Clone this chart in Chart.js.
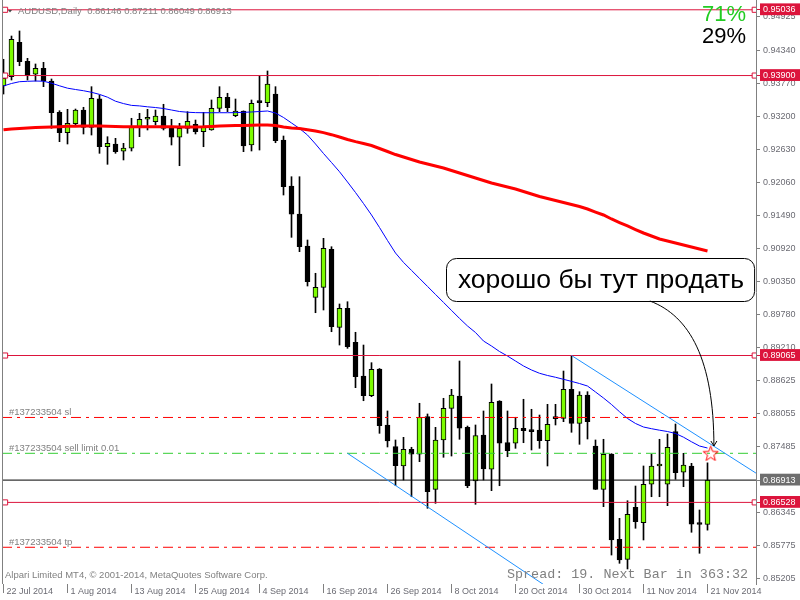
<!DOCTYPE html>
<html>
<head>
<meta charset="utf-8">
<script src="https://cdn.jsdelivr.net/npm/chart.js@4.4.1/dist/chart.umd.min.js"></script>
<style>
  html, body { margin: 0; background: #fff; }
  canvas { display: block; }
</style>
</head>
<body>
<canvas id="chart" width="800" height="600"></canvas>
<script>
// AUDUSD daily bars, 22 Jul 2014 .. 21 Nov 2014 (bar index 0..88)
const opens = [
  0.93720, 0.93880, 0.94474, 0.94146, 0.93922, 0.94025, 0.93806, 0.93265, 0.92913, 0.93069,
  0.93305, 0.93006, 0.93500, 0.92671, 0.92718, 0.92592, 0.92644, 0.93017, 0.93145, 0.93103,
  0.93201, 0.93017, 0.92834, 0.92989, 0.93058, 0.92930, 0.92960, 0.93334, 0.93524, 0.93207,
  0.93288, 0.92701, 0.93440, 0.93432, 0.93581, 0.92787, 0.91992, 0.91509, 0.90956, 0.90070,
  0.90243, 0.90899, 0.89552, 0.89880, 0.89293, 0.88711, 0.88371, 0.88832, 0.87865, 0.87490,
  0.87157, 0.87445, 0.87359, 0.88008, 0.86754, 0.87606, 0.88153, 0.88366, 0.87825, 0.86898,
  0.87692, 0.87100, 0.88279, 0.87559, 0.87549, 0.87808, 0.87778, 0.87778, 0.87594, 0.87998,
  0.87980, 0.88481, 0.87894, 0.88383, 0.87502, 0.86754, 0.87364, 0.85891, 0.85545, 0.86443,
  0.86177, 0.86841, 0.87157, 0.86841, 0.87749, 0.87048, 0.87157, 0.86160, 0.86146
];
const highs = [
  0.94181, 0.94583, 0.94670, 0.94198, 0.94100, 0.94129, 0.93841, 0.93293, 0.93317, 0.93322,
  0.93352, 0.93708, 0.93564, 0.92844, 0.92816, 0.92730, 0.93162, 0.93248, 0.93317, 0.93305,
  0.93404, 0.93144, 0.93075, 0.93276, 0.93132, 0.93265, 0.93478, 0.93708, 0.93594, 0.93495,
  0.93290, 0.93478, 0.93892, 0.93979, 0.93708, 0.92856, 0.92153, 0.92153, 0.91060, 0.90485,
  0.91089, 0.90944, 0.89955, 0.89994, 0.89466, 0.89246, 0.88941, 0.88840, 0.88107, 0.87606,
  0.87652, 0.87480, 0.88240, 0.88055, 0.87825, 0.88326, 0.88481, 0.88970, 0.87847, 0.87865,
  0.88107, 0.88573, 0.88285, 0.88107, 0.87998, 0.88309, 0.88136, 0.88037, 0.88222, 0.88222,
  0.88797, 0.89065, 0.88440, 0.88440, 0.87606, 0.87618, 0.87370, 0.86253, 0.86557, 0.86811,
  0.87157, 0.87359, 0.87618, 0.87709, 0.87882, 0.87376, 0.87203, 0.86397, 0.87211
];
const lows = [
  0.93581, 0.93823, 0.94070, 0.93823, 0.93806, 0.93708, 0.92989, 0.92758, 0.92718, 0.93029,
  0.92891, 0.92873, 0.92557, 0.92367, 0.92557, 0.92442, 0.92597, 0.92844, 0.92960, 0.93046,
  0.92960, 0.92701, 0.92343, 0.92903, 0.92891, 0.92671, 0.92955, 0.93276, 0.93276, 0.93189,
  0.92585, 0.92597, 0.92614, 0.93362, 0.92740, 0.91837, 0.91106, 0.90858, 0.90265, 0.89804,
  0.89851, 0.89476, 0.89246, 0.89189, 0.88509, 0.88284, 0.88354, 0.87721, 0.87485, 0.86816,
  0.86915, 0.86626, 0.87231, 0.86426, 0.86512, 0.87307, 0.87329, 0.87618, 0.86782, 0.86495,
  0.86915, 0.86730, 0.86816, 0.87317, 0.87462, 0.87559, 0.87433, 0.87462, 0.87157, 0.87865,
  0.87922, 0.87739, 0.87531, 0.87623, 0.86750, 0.86454, 0.85619, 0.85476, 0.85378, 0.86081,
  0.85879, 0.86626, 0.86626, 0.86471, 0.86927, 0.86799, 0.86012, 0.85649, 0.86049
];
const closes = [
  0.93853, 0.94526, 0.94139, 0.93897, 0.94025, 0.93806, 0.93258, 0.92913, 0.93075, 0.93305,
  0.93006, 0.93507, 0.92671, 0.92730, 0.92585, 0.92649, 0.93017, 0.93144, 0.93150, 0.93201,
  0.92989, 0.92834, 0.92989, 0.93110, 0.92930, 0.93006, 0.93334, 0.93524, 0.93345, 0.93288,
  0.92683, 0.93421, 0.93432, 0.93754, 0.92775, 0.91980, 0.91504, 0.90944, 0.90340, 0.90243,
  0.90916, 0.89562, 0.89880, 0.89217, 0.88699, 0.88371, 0.88827, 0.87853, 0.87588, 0.87162,
  0.87445, 0.87359, 0.87998, 0.86713, 0.87606, 0.88153, 0.88383, 0.87808, 0.86816, 0.87680,
  0.87105, 0.88257, 0.87549, 0.87421, 0.87808, 0.87766, 0.87749, 0.87594, 0.87877, 0.87974,
  0.88481, 0.87894, 0.88383, 0.87922, 0.86754, 0.87359, 0.85879, 0.85533, 0.86322, 0.86195,
  0.86841, 0.87157, 0.87191, 0.87480, 0.87041, 0.87174, 0.86150, 0.86146, 0.86913
];

// moving averages (blue fast, red slow)
const maFast = [
  0.93720, 0.93763, 0.93794, 0.93801, 0.93806, 0.93802, 0.93768, 0.93723, 0.93682, 0.93659,
  0.93638, 0.93611, 0.93575, 0.93526, 0.93457, 0.93416, 0.93385, 0.93376, 0.93360, 0.93348,
  0.93331, 0.93305, 0.93279, 0.93267, 0.93260, 0.93258, 0.93258, 0.93258, 0.93258, 0.93260,
  0.93265, 0.93271, 0.93279, 0.93288, 0.93253, 0.93176, 0.93081, 0.92986, 0.92873, 0.92718,
  0.92554, 0.92398, 0.92239, 0.92062, 0.91880, 0.91690, 0.91492, 0.91276, 0.91051, 0.90835,
  0.90673, 0.90535, 0.90397, 0.90258, 0.90120, 0.89982, 0.89844, 0.89706, 0.89575, 0.89462,
  0.89315, 0.89229, 0.89134, 0.89056, 0.88970, 0.88884, 0.88815, 0.88758, 0.88720, 0.88689,
  0.88654, 0.88618, 0.88581, 0.88538, 0.88435, 0.88331, 0.88219, 0.88094, 0.87977, 0.87891,
  0.87830, 0.87801, 0.87775, 0.87752, 0.87718, 0.87654, 0.87575, 0.87502, 0.87467
];
const maSlow = [
  0.92965, 0.92977, 0.92987, 0.92994, 0.93001, 0.93006, 0.93012, 0.93018, 0.93024, 0.93025,
  0.93027, 0.93029, 0.93029, 0.93025, 0.93022, 0.93018, 0.93017, 0.93017, 0.93017, 0.93017,
  0.93017, 0.93015, 0.93013, 0.93012, 0.93012, 0.93015, 0.93022, 0.93029, 0.93032, 0.93036,
  0.93039, 0.93043, 0.93046, 0.93046, 0.93037, 0.93012, 0.92994, 0.92984, 0.92963, 0.92942,
  0.92915, 0.92879, 0.92839, 0.92796, 0.92759, 0.92726, 0.92692, 0.92640, 0.92588, 0.92536,
  0.92493, 0.92450, 0.92407, 0.92372, 0.92338, 0.92303, 0.92260, 0.92217, 0.92174, 0.92131,
  0.92087, 0.92044, 0.92010, 0.91975, 0.91941, 0.91898, 0.91854, 0.91811, 0.91777, 0.91742,
  0.91708, 0.91673, 0.91638, 0.91595, 0.91543, 0.91492, 0.91423, 0.91362, 0.91302, 0.91241,
  0.91181, 0.91129, 0.91077, 0.91043, 0.91008, 0.90974, 0.90939, 0.90904, 0.90870
];

// axis ticks
const tickBars = [0, 8, 16, 24, 32, 40, 48, 56, 64, 72, 80, 88];
const tickLabels = ['22 Jul 2014', '1 Aug 2014', '13 Aug 2014', '25 Aug 2014', '4 Sep 2014', '16 Sep 2014',
  '26 Sep 2014', '8 Oct 2014', '20 Oct 2014', '30 Oct 2014', '11 Nov 2014', '21 Nov 2014'];
const yTicks = [0.94925, 0.94340, 0.93770, 0.93200, 0.92630, 0.92060, 0.91490, 0.90920, 0.90350,
  0.89780, 0.89210, 0.88625, 0.88055, 0.87485, 0.86345, 0.85775, 0.85205];

// horizontal lines, order lines, trend lines
const priceLevels = [0.95036, 0.93900, 0.89065, 0.86528];
const bidPrice = 0.86913;
const orderLabels = ['#137233504 sl', '#137233504 sell limit 0.01', '#137233504 tp'];
const orderPrices = [0.87995, 0.87376, 0.85753];
const trendUpperBars = [71, 94.06];
const trendUpperPrices = [0.89065, 0.87034];
const trendLowerBars = [43, 68];
const trendLowerPrices = [0.87376, 0.85064];
const starBar = 88.4;
const starPrice = 0.87376;

const noteText = 'хорошо бы тут продать';
const buyPct = '71%';
const sellPct = '29%';

const xMin = -0.1875, xMax = 94.0625;
const yMin = 0.851186, yMax = 0.95205;

const FONT = "'Liberation Sans', Arial, sans-serif";
const GREEN = '#7CFC00';
const CRIMSON = '#DC143C';
const AXIS_TEXT = '#6b6b73';

const bars = opens.map((_, i) => i);
const isLevel = v => priceLevels.some(p => Math.abs(p - v) < 1e-7);
const isBid = v => Math.abs(v - bidPrice) < 1e-7;

function starImage() {
  const c = document.createElement('canvas');
  c.width = 17; c.height = 16;
  const g = c.getContext('2d');
  g.strokeStyle = '#ff0000';
  g.lineWidth = 1;
  g.beginPath();
  for (let k = 0; k < 10; k++) {
    const r = k % 2 ? 3.3 : 8;
    const a = -Math.PI / 2 + k * Math.PI / 5;
    const px = 8.5 + r * Math.cos(a), py = 8.8 + r * Math.sin(a);
    if (k) g.lineTo(px, py); else g.moveTo(px, py);
  }
  g.closePath();
  g.stroke();
  return c;
}

const levelSets = priceLevels.map(p => ({
  type: 'line',
  data: [{x: xMin, y: p}, {x: 0.2, y: p}, {x: 93.9, y: p}, {x: xMax, y: p}],
  borderColor: CRIMSON, borderWidth: 1,
  pointRadius: [0, 3.6, 3.6, 0], pointStyle: 'rect',
  pointBackgroundColor: '#fff', pointBorderColor: CRIMSON, pointBorderWidth: 1,
  order: 2
}));

const orderSets = orderPrices.map((p, i) => ({
  type: 'line',
  data: [{x: xMin, y: p}, {x: xMax, y: p}],
  borderColor: i === 1 ? '#32CD32' : '#ff0000', borderWidth: 1,
  borderDash: [10, 5, 3, 5],
  pointRadius: 0, order: 3
}));

// text and annotation overlay
const overlay = {
  id: 'overlay',
  afterDraw(chart) {
    const {ctx, chartArea: a, scales: {x, y}} = chart;
    ctx.save();

    // left frame line
    ctx.strokeStyle = '#808080';
    ctx.lineWidth = 1;
    ctx.beginPath();
    ctx.moveTo(a.left + 0.5, 0);
    ctx.lineTo(a.left + 0.5, a.bottom);
    ctx.stroke();

    // order labels
    ctx.font = '9.5px ' + FONT;
    ctx.fillStyle = '#808080';
    ctx.textBaseline = 'middle';
    orderLabels.forEach((t, i) => {
      ctx.fillText(t, a.left + 7, y.getPixelForValue(orderPrices[i]) - 5);
    });

    // header
    const last = opens.length - 1;
    ctx.fillStyle = '#444';
    ctx.beginPath();
    ctx.moveTo(8, 10); ctx.lineTo(12, 10); ctx.lineTo(10, 12.5); ctx.closePath();
    ctx.fill();
    ctx.fillStyle = '#808080';
    ctx.fillText('AUDUSD,Daily  ' + [opens[last], highs[last], lows[last], closes[last]].map(v => v.toFixed(5)).join(' '), 18, 11.5);

    // copyright and spread
    ctx.fillText('Alpari Limited MT4, \u00a9 2001-2014, MetaQuotes Software Corp.', 5, 575);
    ctx.font = "13.4px 'Liberation Mono', monospace";
    ctx.fillStyle = '#808080';
    ctx.fillText('Spread: 19. Next Bar in 363:32', 507, 574);

    // buy / sell percentages
    ctx.font = '22px ' + FONT;
    ctx.textAlign = 'right';
    ctx.fillStyle = '#22cc22';
    ctx.fillText(buyPct, 746, 15);
    ctx.fillStyle = '#000';
    ctx.fillText(sellPct, 746, 37);
    ctx.textAlign = 'left';

    // note box
    ctx.font = '26.5px ' + FONT;
    const bx = x.getPixelForValue(55.3), by = y.getPixelForValue(0.90749);
    const bw = ctx.measureText(noteText).width + 22, bh = 43;
    ctx.fillStyle = '#fff';
    ctx.strokeStyle = '#000';
    ctx.beginPath();
    ctx.roundRect(Math.round(bx) + 0.5, Math.round(by) + 0.5, bw, bh, 10);
    ctx.fill();
    ctx.stroke();
    ctx.fillStyle = '#000';
    ctx.fillText(noteText, bx + 12, by + bh / 2 + 1);

    // curved arrow from the note to the star
    const cx = [80.8, 85.8, 88.8, 88.8].map(v => x.getPixelForValue(v));
    const cy = [0.90006, 0.89747, 0.88987, 0.87502].map(v => y.getPixelForValue(v));
    ctx.strokeStyle = '#000';
    ctx.beginPath();
    ctx.moveTo(cx[0], cy[0]);
    ctx.bezierCurveTo(cx[1], cy[1], cx[2], cy[2], cx[3], cy[3]);
    ctx.stroke();
    ctx.beginPath();
    ctx.moveTo(cx[3] - 3, cy[3] - 5);
    ctx.lineTo(cx[3], cy[3]);
    ctx.lineTo(cx[3] + 3, cy[3] - 5);
    ctx.stroke();

    ctx.restore();
  }
};

new Chart(document.getElementById('chart'), {
  type: 'bar',
  data: {
    datasets: [
      {
        type: 'line',
        data: [{x: starBar, y: starPrice}],
        pointStyle: starImage(), pointRadius: 8, showLine: false, order: 0
      },
      {
        type: 'line',
        data: trendUpperBars.map((b, i) => ({x: b, y: trendUpperPrices[i]})),
        borderColor: '#1E90FF', borderWidth: 1, pointRadius: 0, order: 1
      },
      {
        type: 'line',
        data: trendLowerBars.map((b, i) => ({x: b, y: trendLowerPrices[i]})),
        borderColor: '#1E90FF', borderWidth: 1, pointRadius: 0, order: 1
      },
      ...levelSets,
      {
        type: 'line',
        data: [{x: xMin, y: bidPrice}, {x: xMax, y: bidPrice}],
        borderColor: '#000', borderWidth: 1, pointRadius: 0, order: 2
      },
      ...orderSets,
      {
        type: 'line',
        data: bars.map(i => ({x: i, y: maSlow[i]})),
        borderColor: '#ff0000', borderWidth: 3, pointRadius: 0, order: 4
      },
      {
        type: 'line',
        data: bars.map(i => ({x: i, y: maFast[i]})),
        borderColor: '#0000ff', borderWidth: 1, pointRadius: 0, order: 5
      },
      {
        // candle bodies
        data: bars.map(i => ({x: i, y: [opens[i], closes[i]]})),
        backgroundColor: bars.map(i => closes[i] >= opens[i] ? GREEN : '#000'),
        borderColor: '#000', borderWidth: 1, borderSkipped: false,
        barThickness: 5, minBarLength: 2, grouped: false, order: 8
      },
      {
        // wicks
        data: bars.map(i => ({x: i, y: [lows[i], highs[i]]})),
        backgroundColor: '#000', borderWidth: 0,
        barThickness: 1, grouped: false, order: 9
      }
    ]
  },
  options: {
    responsive: false,
    animation: false,
    events: [],
    layout: { autoPadding: false, padding: { left: 2, top: 0, right: 0, bottom: 0 } },
    plugins: { legend: { display: false }, tooltip: { enabled: false } },
    scales: {
      x: {
        type: 'linear', min: xMin, max: xMax, offset: false,
        afterBuildTicks: s => { s.ticks = tickBars.map(v => ({ value: v })); },
        afterFit: s => { s.height = 16; s.paddingLeft = 0; s.paddingRight = 0; },
        grid: { drawOnChartArea: false, offset: false, tickLength: 9, tickColor: '#808080' },
        border: { display: false },
        ticks: {
          autoSkip: false, maxRotation: 0, align: 'start', labelOffset: 3, padding: -7,
          color: AXIS_TEXT, font: { family: FONT, size: 9 },
          callback: v => tickLabels[tickBars.indexOf(v)]
        }
      },
      y: {
        position: 'right', min: yMin, max: yMax, beginAtZero: false,
        afterBuildTicks: s => { s.ticks = [...yTicks, bidPrice, ...priceLevels].map(v => ({ value: v })); },
        afterFit: s => { s.width = 44; s.paddingTop = 0; s.paddingBottom = 0; },
        grid: {
          drawOnChartArea: false, tickLength: 4,
          tickColor: c => isLevel(c.tick.value) ? CRIMSON : '#808080'
        },
        border: { color: '#808080' },
        ticks: {
          autoSkip: false, padding: 3,
          font: { family: FONT, size: 9 },
          color: c => (isLevel(c.tick.value) || isBid(c.tick.value)) ? '#fff' : AXIS_TEXT,
          showLabelBackdrop: c => isLevel(c.tick.value) || isBid(c.tick.value),
          backdropColor: c => isBid(c.tick.value) ? '#6e6e6e' : CRIMSON,
          backdropPadding: { top: 1, bottom: 0, left: 3, right: 8 },
          callback: v => v.toFixed(5)
        }
      }
    }
  },
  plugins: [overlay]
});
</script>
</body>
</html>
